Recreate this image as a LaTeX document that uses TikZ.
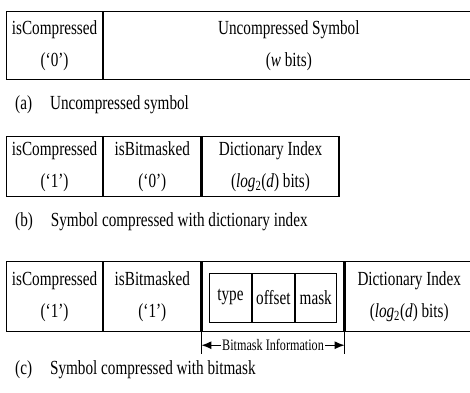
\documentclass[tikz,border=0pt]{standalone}
\usepackage{fontspec}
\setmainfont{Liberation Serif}[FakeStretch=0.76]
\usetikzlibrary{positioning,arrows.meta}
\tikzset{
  cell/.style={draw, line width=1.2pt, inner sep=0pt, align=center, anchor=north west,
    font=\fontsize{20}{32}\selectfont},
  subcell/.style={draw, line width=0.9pt, inner sep=0pt, minimum width=42pt, minimum height=49pt,
    font=\fontsize{20}{24}\selectfont},
  caption/.style={anchor=west, inner sep=0pt, font=\fontsize{20}{24}\selectfont}
}
\begin{document}
\begin{tikzpicture}[x=1pt,y=-1pt]
  \useasboundingbox (0,0) rectangle (470,392);
  % (a)
  \node[cell, minimum width=96pt, minimum height=68pt] (a1) at (6,11) {isCompressed\\(`0')};
  \node[cell, minimum width=370pt, minimum height=68pt, right=0pt of a1] (a2) {Uncompressed Symbol\\(\textit{w} bits)};
  \node[caption] (capa) at (15,105) {(a)\hspace{18pt}Uncompressed symbol};
  % (b)
  \node[cell, minimum width=96pt, minimum height=60pt] (b1) at (6,136) {isCompressed\\(`1')};
  \node[cell, minimum width=97pt, minimum height=60pt, right=0pt of b1] (b2) {isBitmasked\\(`0')};
  \node[cell, minimum width=137pt, minimum height=60pt, right=0pt of b2] (b3) {Dictionary Index\\(\textit{log}\textsubscript{2}(\textit{d}) bits)};
  \node[caption] (capb) at (15,222) {(b)\hspace{18pt}Symbol compressed with dictionary index};
  % (c)
  \node[cell, minimum width=96pt, minimum height=70pt] (c1) at (6,261) {isCompressed\\(`1')};
  \node[cell, minimum width=97pt, minimum height=70pt, right=0pt of c1] (c2) {isBitmasked\\(`1')};
  \node[cell, minimum width=142pt, minimum height=70pt, right=0pt of c2] (c3) {};
  \node[cell, minimum width=128pt, minimum height=70pt, right=0pt of c3] (c4) {Dictionary Index\\(\textit{log}\textsubscript{2}(\textit{d}) bits)};
  \node[subcell, anchor=west] (type) at (209,297.5) {type};
  \node[subcell, right=0pt of type] (offset) {offset};
  \node[subcell, minimum width=41pt, right=0pt of offset] (mask) {mask};
  \coordinate (tickl) at ([yshift=-22pt]c3.south west);
  \coordinate (tickr) at ([yshift=-22pt]c3.south east);
  \coordinate (arrl) at ([yshift=-13pt]c3.south west);
  \coordinate (arrr) at ([yshift=-13pt]c3.south east);
  \draw[line width=0.9pt] (c3.south west) -- (tickl);
  \draw[line width=0.9pt] (c3.south east) -- (tickr);
  \draw[line width=1.2pt, {Latex[length=10pt,width=8pt]}-{Latex[length=10pt,width=8pt]}] (arrl) -- node[fill=white, inner sep=1pt, font=\fontsize{16}{18}\selectfont] (binfo) {Bitmask Information} (arrr);
  \node[caption] (capc) at (15,370) {(c)\hspace{18pt}Symbol compressed with bitmask};
\end{tikzpicture}
\end{document}
